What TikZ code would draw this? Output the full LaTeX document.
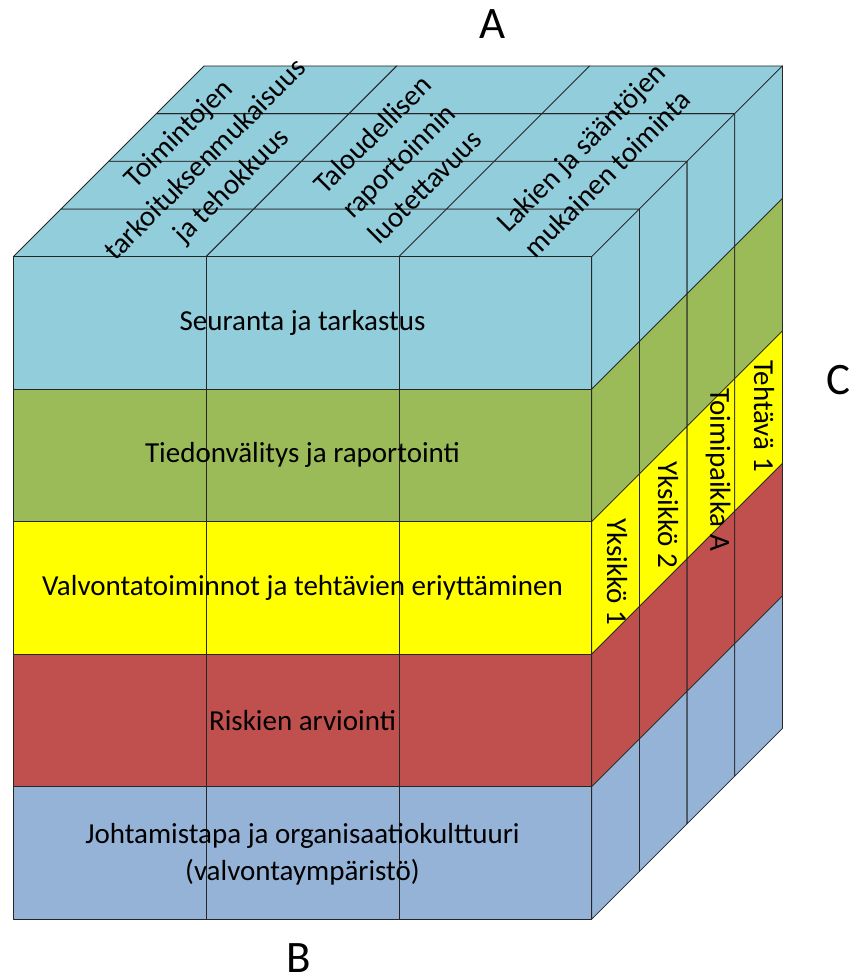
\documentclass[tikz,border=0pt]{standalone}
\usepackage{fontspec}
\setmainfont{Carlito}
\definecolor{cTop}{RGB}{146,205,220}
\definecolor{cGreen}{RGB}{155,187,89}
\definecolor{cYellow}{RGB}{255,255,0}
\definecolor{cRed}{RGB}{192,80,77}
\definecolor{cBlue}{RGB}{149,179,215}
\begin{document}
\begin{tikzpicture}[x=1pt,y=-1pt,
  cell/.style={draw=black!85,line width=0.8pt,line join=round},
  lbl/.style={font=\fontsize{29}{37}\selectfont,align=center,inner sep=0pt},
  big/.style={font=\fontsize{45}{50}\selectfont,inner sep=0pt}]
\useasboundingbox (0,0) rectangle (850,975);
\def\dd{47.7}
% ---------- top face ----------
\foreach \j in {0,1,2,3}{
  \begin{scope}[shift={({\dd*\j},{-\dd*\j})}]
    \foreach \xa/\xb in {13.3/206.1,206.1/398.9,398.9/591.7}{
      \filldraw[cell,fill=cTop] (\xa,256.7) -- (\xb,256.7) -- (\xb+\dd,256.7-\dd) -- (\xa+\dd,256.7-\dd) -- cycle;
    }
  \end{scope}
}
% ---------- right face ----------
\foreach \j in {0,1,2,3}{
  \begin{scope}[shift={({\dd*\j},{-\dd*\j})}]
    \foreach \ya/\yb/\c in {256.7/389.2/cTop,389.2/521.7/cGreen,521.7/654.2/cYellow,654.2/786.7/cRed,786.7/919.2/cBlue}{
      \filldraw[cell,fill=\c] (591.7,\ya) -- (591.7+\dd,\ya-\dd) -- (591.7+\dd,\yb-\dd) -- (591.7,\yb) -- cycle;
    }
  \end{scope}
}
% ---------- front face ----------
\foreach \ya/\yb/\c in {256.7/389.2/cTop,389.2/521.7/cGreen,521.7/654.2/cYellow,654.2/786.7/cRed,786.7/919.2/cBlue}{
  \foreach \xa/\xb in {13.3/206.1,206.1/398.9,398.9/591.7}{
    \filldraw[cell,fill=\c] (\xa,\ya) rectangle (\xb,\yb);
  }
}
% ---------- front labels ----------
\node[lbl] (f1) at (302.5,322.9) {Seuranta ja tarkastus};
\node[lbl] (f2) at (302.5,455.4) {Tiedonvälitys ja raportointi};
\node[lbl] (f3) at (302.5,587.9) {Valvontatoiminnot ja tehtävien eriyttäminen};
\node[lbl] (f4) at (302.5,720.4) {Riskien arviointi};
\node[lbl] (f5) at (302.5,854.5) {Johtamistapa ja organisaatiokulttuuri\\(valvontaympäristö)};
% ---------- top labels ----------
\node[lbl,rotate=45] (t1) at (206,160.5) {Toimintojen\\tarkoituksenmukaisuus\\ja tehokkuus};
\node[lbl,rotate=45] (t2) at (398.5,160.5) {Taloudellisen\\raportoinnin\\luotettavuus};
\node[lbl,rotate=45] (t3) at (594,160.5) {Lakien ja sääntöjen\\mukainen toiminta};
% ---------- right labels ----------
\node[lbl,rotate=-90] (r1) at (617,572) {Yksikkö 1};
\node[lbl,rotate=-90] (r2) at (668,515) {Yksikkö 2};
\node[lbl,rotate=-90] (r3) at (718,470) {Toimipaikka A};
\node[lbl,rotate=-90] (r4) at (764,416) {Tehtävä 1};
% ---------- axis letters ----------
\node[big] (A) at (493,24) {A};
\node[big] (B) at (299,958) {B};
\node[big] (C) at (838,380) {C};
\end{tikzpicture}
\end{document}
